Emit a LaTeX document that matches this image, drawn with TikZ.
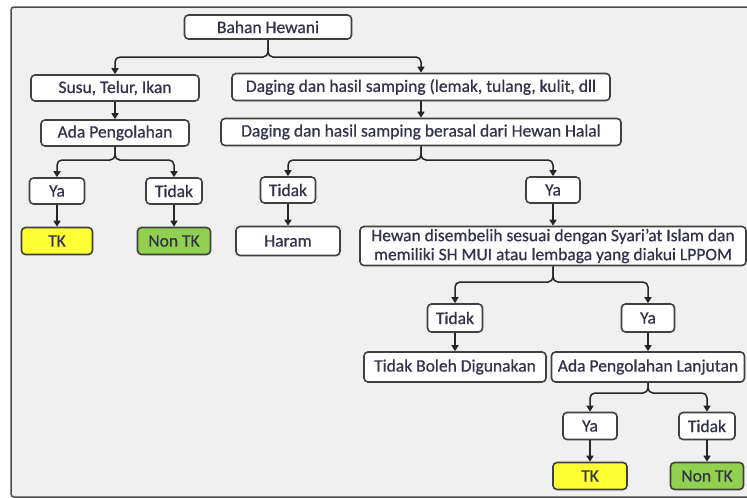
\documentclass[tikz,border=0pt]{standalone}
\usepackage{fontspec}
\setmainfont{Carlito}[RawFeature={embolden=0.6}]
\usetikzlibrary{arrows.meta}

\definecolor{tkyellow}{RGB}{255,255,51}
\definecolor{nontkgreen}{RGB}{146,208,80}
\definecolor{framegray}{RGB}{240,240,240}
\definecolor{textgray}{RGB}{50,50,75}

\tikzset{
  box/.style={draw=black!75, line width=1.6pt, rounded corners=4pt, fill=white,
    inner sep=1pt, text=textgray, align=center, font=\fontsize{17.5}{19}\selectfont},
  sz/.style 2 args={minimum width=#1pt, minimum height=#2pt},
  tkbox/.style={box, fill=tkyellow},
  nontkbox/.style={box, fill=nontkgreen},
  arr/.style={draw=black!85, line width=1.5pt, rounded corners=5pt,
    -{Triangle[length=6pt,width=7pt]}},
}

\begin{document}
\begin{tikzpicture}[x=1pt,y=-1pt]
  \useasboundingbox (0,0) rectangle (747,498);
  \begin{scope}
    \clip (0,0) rectangle (747,498); % the frame runs off the right edge
    \draw[fill=framegray, draw=black!70, line width=1.5pt, rounded corners=3pt] (11,7) rectangle (770,497);
  \end{scope}

  % top of the tree
  \node[box, sz={167}{24}] (bahan) at (268,27) {Bahan Hewani};
  \node[box, sz={168}{26}] (susu) at (115,88) {Susu, Telur, Ikan};
  \node[box, sz={378}{27}] (daging) at (421,87) {Daging dan hasil samping (lemak, tulang, kulit, dll};
  \node[box, sz={400}{27}] (halal) at (421,132) {Daging dan hasil samping berasal dari Hewan Halal};
  \node[box, sz={148}{26}] (ada) at (115,133) {Ada Pengolahan};

  % left branch
  \node[box, sz={55}{26}] (ya1) at (57,191) {Ya};
  \node[box, sz={56}{26}] (tidak1) at (174,191) {Tidak};
  \node[tkbox, sz={71}{27}] (tk1) at (57,241) {TK};
  \node[nontkbox, sz={73}{27}] (nontk1) at (174,241) {Non TK};

  % right branch
  \node[box, sz={55}{26}] (tidak2) at (288,190) {Tidak};
  \node[box, sz={104}{29}] (haram) at (288,241) {Haram};
  \node[box, sz={54}{26}] (ya2) at (553,190) {Ya};
  \node[box, sz={386}{39}] (hewan) at (553,246) {Hewan disembelih sesuai dengan Syari'at Islam dan\\memiliki SH MUI atau lembaga yang diakui LPPOM};
  \node[box, sz={55}{28}] (tidak3) at (455,318) {Tidak};
  \node[box, sz={53}{28}] (ya3) at (648,318) {Ya};
  \node[box, sz={182}{30}] (tbd) at (455,367) {Tidak Boleh Digunakan};
  \node[box, sz={193}{30}] (apl) at (648,367) {Ada Pengolahan Lanjutan};
  \node[box, sz={54}{27}] (ya4) at (590,426) {Ya};
  \node[box, sz={56}{27}] (tidak4) at (707,426) {Tidak};
  \node[tkbox, sz={74}{27}] (tk2) at (590,476) {TK};
  \node[nontkbox, sz={73}{27}] (nontk2) at (707,476) {Non TK};

  % junctions of the split lines
  \coordinate (b1) at (268,57);
  \coordinate (b2) at (115,160);
  \coordinate (b3) at (421,160);
  \coordinate (b4) at (553,282);
  \coordinate (b5) at (648,393);

  \draw[arr] (bahan) -- (b1) -| (susu);
  \draw[arr] (bahan) -- (b1) -| (daging);
  \draw[arr] (susu) -- (ada);
  \draw[arr] (daging) -- (halal);
  \draw[arr] (ada) -- (b2) -| (ya1);
  \draw[arr] (ada) -- (b2) -| (tidak1);
  \draw[arr] (ya1) -- (tk1);
  \draw[arr] (tidak1) -- (nontk1);
  \draw[arr] (halal) -- (b3) -| (tidak2);
  \draw[arr] (halal) -- (b3) -| (ya2);
  \draw[arr] (tidak2) -- (haram);
  \draw[arr] (ya2) -- (hewan);
  \draw[arr] (hewan) -- (b4) -| (tidak3);
  \draw[arr] (hewan) -- (b4) -| (ya3);
  \draw[arr] (tidak3) -- (tbd);
  \draw[arr] (ya3) -- (apl);
  \draw[arr] (apl) -- (b5) -| (ya4);
  \draw[arr] (apl) -- (b5) -| (tidak4);
  \draw[arr] (ya4) -- (tk2);
  \draw[arr] (tidak4) -- (nontk2);
\end{tikzpicture}
\end{document}
